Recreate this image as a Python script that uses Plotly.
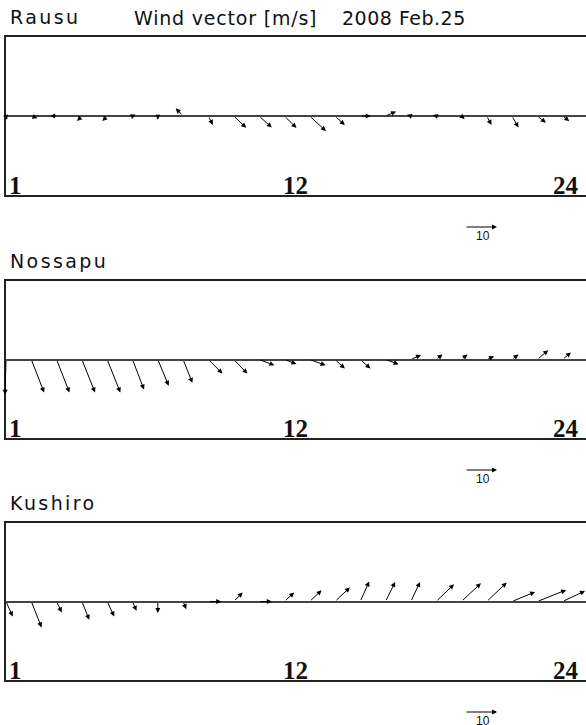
import plotly.graph_objects as go

# ---------------- data (m/s), hours 1..23 of 2008 Feb.25 ----------------
hours = list(range(1, 24))

stations = ["Rausu", "Nossapu", "Kushiro"]

rausu_u = [0.3, 1.9, -2.0, -1.5, -1.5, 1.0, 0.0, -2.3, 1.4, 3.9, 4.0, 3.8,
           5.1, 3.1, 3.3, 3.3, -1.2, -1.0, 1.0, 1.5, 2.0, 2.7, 2.1]
rausu_v = [-1.2, -0.7, 0.1, -1.6, -1.6, 0.4, -1.2, 2.4, -2.8, -3.7, -3.6, -3.7,
           -4.7, -2.8, 0.0, 1.4, 0.4, 0.3, -0.9, -2.8, -3.6, -2.1, -1.6]

nossapu_u = [-0.3, 4.0, 4.0, 4.1, 4.1, 3.6, 3.4, 2.9, 4.4, 4.3, 4.8, 3.8,
             5.0, 3.1, 3.2, 4.1, 3.2, 2.0, 1.9, 2.3, 2.0, 3.4, 2.6]
nossapu_v = [-11.0, -10.3, -10.3, -10.3, -10.3, -9.4, -8.2, -7.3, -4.4, -4.4, -1.8, -1.4,
             -1.8, -2.8, -2.8, -1.5, 1.4, 1.6, 1.6, 1.0, 1.6, 2.9, 2.2]

kushiro_u = [2.1, 3.2, 1.6, 2.3, 2.2, 1.25, 0.0, 1.0, 4.0, 2.8, 4.0, 3.1,
             3.75, 4.7, 2.8, 3.0, 2.9, 5.6, 6.1, 6.25, 7.2, 9.0, 7.0]
kushiro_v = [-4.7, -8.1, -3.4, -5.7, -4.7, -2.9, -3.6, -2.4, 0.0, 2.8, 0.0, 2.8,
             3.5, 4.4, 6.25, 6.1, 6.1, 5.4, 5.7, 5.9, 3.0, 3.6, 3.3]

hour_labels = ["1", "12", "24"]
scale_speed = 10  # reference vector, m/s
header = "Wind vector [m/s]"
date_text = "2008 Feb.25"

series = [(rausu_u, rausu_v), (nossapu_u, nossapu_v), (kushiro_u, kushiro_v)]

# ---------------- geometry ----------------
W, H = 586, 725
ML = 6
px_per_hour = 25.3
px_per_ms = 3.2
x_range = [1, 1 + (W - ML) / px_per_hour]
panels_px = [(37, 195), (281, 438), (523, 680)]  # top, bottom in pixels

def py2paper(py):
    return 1 - py / H

def px2paper(px):
    return (px - ML) / (W - ML)

def px2hour(px):
    return x_range[0] + (px - ML) / px_per_hour

k = px_per_ms / px_per_hour  # hours per m/s so that arrows are isotropic

fig = go.Figure()
layout = dict(width=W, height=H, margin=dict(l=ML, r=0, t=0, b=0),
              paper_bgcolor="white", plot_bgcolor="white", showlegend=False)
annotations = []

label_font = dict(family="DejaVu Sans", size=19, color="#111")
hour_font = dict(family="Liberation Serif", size=25, color="#111")
hour_px = [(7, "left"), (281, "left"), (581, "right")]

for i, ((top, bot), name, (uu, vv)) in enumerate(zip(panels_px, stations, series)):
    n = "" if i == 0 else str(i + 1)
    half = (bot - top) / 2 / px_per_ms
    layout["xaxis" + n] = dict(domain=[0, 1], range=x_range, anchor="y" + n,
                               showline=True, mirror=True, linecolor="#222", linewidth=1.5,
                               showgrid=False, zeroline=False, showticklabels=False, ticks="",
                               fixedrange=True)
    layout["yaxis" + n] = dict(domain=[py2paper(bot), py2paper(top)], range=[-half, half],
                               anchor="x" + n, showline=True, mirror=False,
                               linecolor="#222", linewidth=1.5,
                               showgrid=False, zeroline=True, zerolinecolor="#444",
                               zerolinewidth=1.5, showticklabels=False, ticks="",
                               fixedrange=True)
    fig.add_trace(go.Scatter(x=[], y=[], xaxis="x" + n, yaxis="y" + n))

    # wind vectors
    for h, u, v in zip(hours, uu, vv):
        annotations.append(dict(
            x=h + u * k, y=v, ax=h, ay=0,
            xref="x" + n, yref="y" + n, axref="x" + n, ayref="y" + n,
            text="", showarrow=True, arrowhead=2, arrowsize=1.0, arrowwidth=1,
            arrowcolor="#000", standoff=0, startstandoff=0))

    # station label
    annotations.append(dict(
        x=px2paper(8), y=py2paper(top - 20), xref="paper", yref="paper",
        xanchor="left", yanchor="middle", showarrow=False,
        text='<span style="letter-spacing:2.4px">%s</span>' % name, font=label_font))

    # hour labels
    for lab, (hx, xa) in zip(hour_labels, hour_px):
        annotations.append(dict(
            x=px2paper(hx), y=py2paper(bot - 9.5), xref="paper", yref="paper",
            xanchor=xa, yanchor="middle", showarrow=False,
            text="<b>%s</b>" % lab, font=hour_font))

    # reference arrow (10 m/s)
    tail_h = px2hour(465)
    annotations.append(dict(
        x=tail_h + scale_speed * k, y=py2paper(bot + 32), xref="x" + n, yref="paper",
        ax=-scale_speed * px_per_ms, ay=0, axref="pixel", ayref="pixel",
        text="", showarrow=True, arrowhead=2, arrowsize=1.0, arrowwidth=1,
        arrowcolor="#000", standoff=0))
    annotations.append(dict(
        x=tail_h + scale_speed * k / 2 + 0.06, y=py2paper(bot + 41), xref="x" + n, yref="paper",
        xanchor="center", yanchor="middle", showarrow=False, text=str(scale_speed),
        font=dict(family="Liberation Sans", size=12, color="#111")))

# header
annotations.append(dict(
    x=px2paper(132), y=py2paper(17.5), xref="paper", yref="paper",
    xanchor="left", yanchor="middle", showarrow=False,
    text='<span style="letter-spacing:0.8px">%s</span>' % header, font=label_font))
annotations.append(dict(
    x=px2paper(340), y=py2paper(17.5), xref="paper", yref="paper",
    xanchor="left", yanchor="middle", showarrow=False,
    text='<span style="letter-spacing:0.5px">%s</span>' % date_text, font=label_font))

layout["annotations"] = annotations
fig.update_layout(**layout)
fig.write_html("out.html", config={"displayModeBar": False},
               post_script="document.body.style.margin='0';document.body.style.overflow='hidden';")
